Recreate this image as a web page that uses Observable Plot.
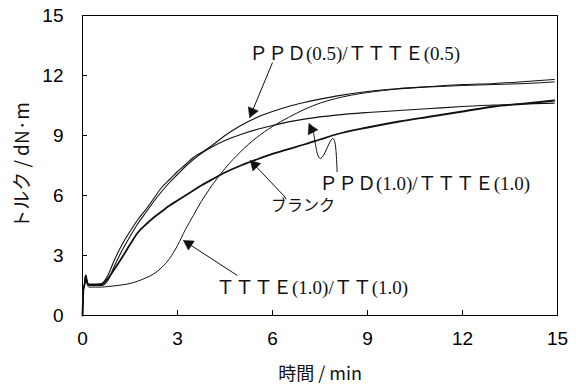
<!DOCTYPE html>
<html><head><meta charset="utf-8">
<script src="https://cdn.jsdelivr.net/npm/d3@7"></script>
<script src="https://cdn.jsdelivr.net/npm/@observablehq/plot@0.6"></script>
<style>body{margin:0;background:#fff}</style>
</head><body><div id="chart"></div>
<script>
// time (min)
const time  = [0,0.03,0.07,0.1,0.15,0.2,0.4,0.6,0.8,1.0,1.25,1.5,1.75,2.0,2.25,2.5,2.75,3.0,3.25,3.5,3.75,4.0,4.5,5.0,5.5,6.0,6.5,7.0,7.5,8.0,9,10,11,12,13,14,14.9];
// torque (dN·m)
const ppd05 = [0,1.3,1.6,2.0,1.65,1.55,1.55,1.6,2.0,2.75,3.55,4.2,4.8,5.3,5.85,6.4,6.8,7.2,7.55,7.9,8.15,8.4,9.0,9.5,9.9,10.2,10.45,10.65,10.82,10.97,11.2,11.35,11.45,11.55,11.6,11.7,11.8];
const ppd10 = [0,1.3,1.6,2.0,1.6,1.5,1.5,1.5,1.75,2.45,3.25,3.95,4.6,5.15,5.7,6.2,6.65,7.05,7.45,7.8,8.1,8.35,8.75,9.05,9.3,9.5,9.68,9.82,9.93,10.02,10.15,10.25,10.35,10.45,10.52,10.58,10.62];
const blank = [0,1.3,1.6,2.0,1.65,1.55,1.55,1.55,1.85,2.3,2.9,3.55,4.15,4.55,4.9,5.2,5.5,5.75,6.0,6.25,6.5,6.72,7.15,7.5,7.8,8.08,8.32,8.55,8.8,9.05,9.4,9.7,9.95,10.2,10.45,10.6,10.75];
const ttte  = [0,1.3,1.6,2.0,1.55,1.42,1.42,1.42,1.45,1.48,1.53,1.6,1.72,1.88,2.08,2.4,2.85,3.5,4.3,5.0,5.7,6.3,7.35,8.2,8.9,9.45,9.9,10.3,10.62,10.85,11.15,11.33,11.43,11.5,11.55,11.6,11.68];

const xDomain = [0, 15];
const yDomain = [0, 15];
const xTicks = [0,3,6,9,12,15];
const yTicks = [0,3,6,9,12,15];
const xLabel = "時間 / min";
const yLabel = "トルク / dN·m";

// annotations (data units)
const annoText = ["ＰＰＤ(0.5)/ＴＴＴＥ(0.5)", "ＰＰＤ(1.0)/ＴＴＴＥ(1.0)", "ブランク", "ＴＴＴＥ(1.0)/ＴＴ(1.0)"];
const annoX = [8.59, 10.8, 6.96, 7.25];
const annoY = [13.1, 6.6, 5.5, 1.4];
const annoSize = [19, 19, 16, 19];
const arrowX1 = [6.0, 6.41, 4.89];
const arrowY1 = [12.65, 5.9, 2.0];
const arrowX2 = [5.28, 5.3, 3.19];
const arrowY2 = [9.9, 7.75, 3.75];
const waveX = [8.04, 7.9, 7.52, 7.3, 7.15];
const waveY = [7.2, 8.85, 7.85, 9.1, 9.58];

const series = [
  {name: "PPD(0.5)/TTTE(0.5)", values: ppd05, w: 1.1},
  {name: "PPD(1.0)/TTTE(1.0)", values: ppd10, w: 1.1},
  {name: "blank", values: blank, w: 1.8},
  {name: "TTTE(1.0)/TT(1.0)", values: ttte, w: 1.0}
];

const annos = annoText.map((s, i) => ({s, x: annoX[i], y: annoY[i], fs: annoSize[i]}));
const arrows = arrowX1.map((x1, i) => ({x1, y1: arrowY1[i], x2: arrowX2[i], y2: arrowY2[i]}));
const wave = waveX.map((x, i) => ({x, y: waveY[i]}));
const yTitle = [{s: yLabel, x: xDomain[0], y: (yDomain[0] + yDomain[1]) / 2}];

const annoFont = '"Liberation Serif","Noto Sans CJK JP",serif';

function build(heads) {
  const marks = [
    Plot.frame({stroke: "black", strokeWidth: 1}),
    Plot.axisX({ticks: xTicks, tickSize: -5, tickPadding: 21, fontSize: 19, label: null}),
    Plot.axisY({ticks: yTicks, tickSize: -5, tickPadding: 24, fontSize: 19, label: null}),
    ...series.map(s => Plot.line(time.map((t, i) => ({t, v: s.values[i]})),
      {x: "t", y: "v", stroke: "#111", strokeWidth: s.w, curve: "monotone-x"})),
    Plot.link(arrows, {x1: "x1", y1: "y1", x2: "x2", y2: "y2", stroke: "#111", strokeWidth: 1}),
    Plot.line(wave, {x: "x", y: "y", curve: "natural", stroke: "#111", strokeWidth: 1}),
    Plot.text(annos, {x: "x", y: "y", text: "s", fontSize: d => d.fs, fontFamily: annoFont, fill: "#111"}),
    Plot.text([xLabel], {frameAnchor: "bottom", textAnchor: "middle", dy: 64, fontSize: 18, fontFamily: '"Noto Sans CJK JP",sans-serif', fill: "#111"}),
    Plot.text(yTitle, {x: "x", y: "y", text: "s", textAnchor: "middle", lineAnchor: "middle", dx: -60, rotate: -90, fontSize: 19, fontFamily: '"Noto Sans CJK JP",sans-serif', fill: "#111"})
  ];
  if (heads) marks.push(Plot.dot(heads, {x: "x", y: "y", symbol: "triangle", r: 4, rotate: "a", fill: "#111", stroke: "#111", strokeWidth: 0.5}));
  return Plot.plot({
    width: 576, height: 385,
    marginLeft: 82, marginRight: 19, marginTop: 15, marginBottom: 70,
    x: {domain: xDomain},
    y: {domain: yDomain},
    style: {fontFamily: '"Liberation Sans Narrow","Liberation Sans",Arial,sans-serif', color: "black", background: "white", overflow: "visible"},
    marks
  });
}

// first pass to read scales, then compute arrowhead positions/angles
const p0 = build(null);
const sx = p0.scale("x"), sy = p0.scale("y");
const segs = arrows.map(a => [a.x1, a.y1, a.x2, a.y2]);
const n = wave.length;
segs.push([wave[n-2].x, wave[n-2].y, wave[n-1].x, wave[n-1].y]);
const heads = segs.map(([x1, y1, x2, y2]) => {
  const px1 = sx.apply(x1), py1 = sy.apply(y1), px2 = sx.apply(x2), py2 = sy.apply(y2);
  const dx = px2 - px1, dy = py2 - py1, L = Math.hypot(dx, dy);
  const ux = dx / L, uy = dy / L;
  const cx = px2 - ux * 6.2, cy = py2 - uy * 6.2;
  return {x: sx.invert(cx), y: sy.invert(cy), a: Math.atan2(ux, -uy) * 180 / Math.PI};
});
document.getElementById("chart").append(build(heads));
</script>
</body></html>
